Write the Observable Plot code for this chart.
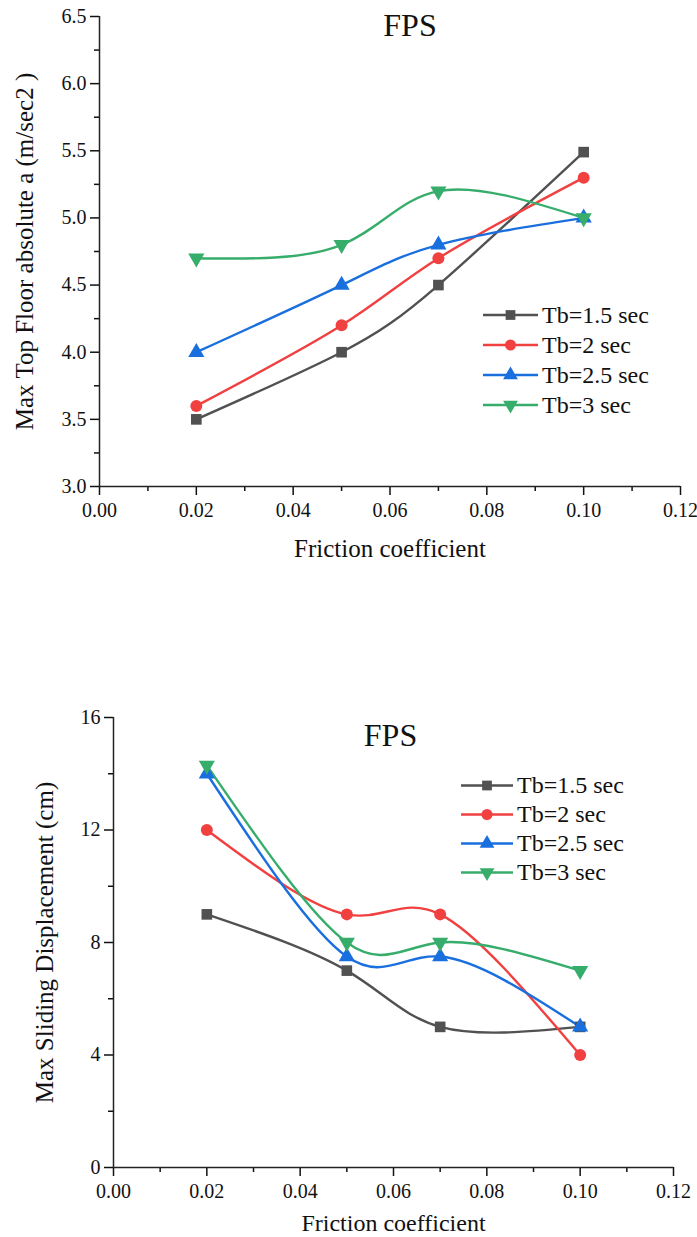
<!DOCTYPE html>
<html><head><meta charset="utf-8">
<script src="https://cdn.jsdelivr.net/npm/d3@7"></script>
<script src="https://cdn.jsdelivr.net/npm/@observablehq/plot@0.6"></script>
<style>
body{margin:0;background:#fff;}
.chart{position:relative;width:697px;}
.chart svg{display:block;}
.chart svg text{font-family:"Liberation Serif","Times New Roman",serif;}
.legend{position:absolute;font-family:"Liberation Serif","Times New Roman",serif;color:#111;}
.legend .row{display:flex;align-items:center;white-space:nowrap;}
.legend svg{display:block;}
</style></head><body>
<div id="c1" class="chart"></div>
<div id="c2" class="chart"></div>
<script>
// ---- data ----
const friction = [0.02, 0.05, 0.07, 0.10];
const seriesNames = ["Tb=1.5 sec", "Tb=2 sec", "Tb=2.5 sec", "Tb=3 sec"];
const accelTb15 = [3.5, 4.0, 4.5, 5.49];
const accelTb2  = [3.6, 4.2, 4.7, 5.3];
const accelTb25 = [4.0, 4.5, 4.8, 5.0];
const accelTb3  = [4.7, 4.8, 5.2, 5.0];
const dispTb15 = [9, 7, 5, 5];
const dispTb2  = [12, 9, 9, 4];
const dispTb25 = [14, 7.5, 7.5, 5];
const dispTb3  = [14.3, 8, 8, 7];
const xTicks = [0, 0.02, 0.04, 0.06, 0.08, 0.10, 0.12];
const xMinorTicks = [0.01, 0.03, 0.05, 0.07, 0.09, 0.11];
const accelTicks = [3.0, 3.5, 4.0, 4.5, 5.0, 5.5, 6.0, 6.5];
const accelMinorTicks = [3.25, 3.75, 4.25, 4.75, 5.25, 5.75, 6.25];
const dispTicks = [0, 4, 8, 12, 16];
const dispMinorTicks = [2, 6, 10, 14];
const colors = ["#515151", "#F14040", "#1A6FDF", "#37AD6B"];
const symbols = ["square", "circle", "triangle", "triangle"];
const rotations = [0, 0, 0, 180];

const FONT = '"Liberation Serif", "Times New Roman", serif';

function toRows(seriesList) {
  const rows = [];
  seriesList.forEach((vals, i) => vals.forEach((v, j) => rows.push({x: friction[j], y: v, s: seriesNames[i], rot: rotations[i]})));
  return rows;
}

function makeChart(o) {
  const rows = toRows(o.series);
  return Plot.plot({
    width: 697, height: o.height,
    marginTop: o.marginTop, marginBottom: o.marginBottom, marginLeft: o.marginLeft, marginRight: o.marginRight,
    style: {fontFamily: FONT, fontSize: "20px", color: "#111", background: "#fff"},
    x: {domain: [0, 0.12]},
    y: {domain: o.yDomain},
    color: {domain: seriesNames, range: colors},
    symbol: {domain: seriesNames, range: symbols},
    marks: [
      Plot.axisX({ticks: xTicks, tickSize: 9, tickPadding: 7, strokeWidth: 1.5, tickFormat: d3.format(".2f"),
        fontSize: o.xTickFont, fontFamily: FONT, label: null}),
      Plot.axisX({ticks: xMinorTicks, tickSize: 5, strokeWidth: 1.5, tickFormat: () => "", label: null}),
      Plot.axisX({ticks: [], label: "Friction coefficient", labelAnchor: "center", labelArrow: "none",
        labelOffset: o.xLabelOffset, fontSize: o.xLabelFont, fontFamily: FONT}),
      Plot.axisY({ticks: o.yTicks, tickSize: 9, tickPadding: 4, strokeWidth: 1.5, tickFormat: o.yFormat,
        fontSize: o.yTickFont, fontFamily: FONT, label: null}),
      Plot.axisY({ticks: o.yMinor, tickSize: 5, strokeWidth: 1.5, tickFormat: () => "", label: null}),
      Plot.axisY({ticks: [], label: o.yLabel, labelAnchor: "center", labelArrow: "none", labelOffset: o.yLabelOffset,
        fontSize: o.yLabelFont, fontFamily: FONT}),
      Plot.ruleX([0], {strokeWidth: 1.5, stroke: "#222"}),
      Plot.ruleY([o.yDomain[0]], {strokeWidth: 1.5, stroke: "#222"}),
      Plot.line(rows, {x: "x", y: "y", z: "s", stroke: "s", curve: "natural", strokeWidth: 2.4}),
      Plot.dot(rows, {x: "x", y: "y", fill: "s", symbol: "s", rotate: "rot", r: 6, stroke: "none"}),
      Plot.text(["FPS"], {frameAnchor: "top", dx: o.titleDx, dy: o.titleDy, lineAnchor: "middle", fontSize: 32, fill: "#111", fontFamily: FONT})
    ]
  });
}

function makeLegend(o) {
  const lg = document.createElement("div");
  lg.className = "legend";
  lg.style.left = o.left + "px";
  lg.style.top = o.top + "px";
  lg.style.fontSize = o.fontSize + "px";
  seriesNames.forEach((name, i) => {
    const row = document.createElement("div");
    row.className = "row";
    row.style.height = o.rowH + "px";
    const w = o.lineW;
    const svg = d3.create("svg").attr("width", w).attr("height", o.rowH);
    svg.append("line").attr("x1", 0).attr("x2", w).attr("y1", o.rowH / 2).attr("y2", o.rowH / 2)
      .attr("stroke", colors[i]).attr("stroke-width", 2.4);
    const sym = {square: d3.symbolSquare, circle: d3.symbolCircle, triangle: d3.symbolTriangle}[symbols[i]];
    svg.append("path").attr("d", d3.symbol(sym, Math.PI * 5.5 * 5.5)())
      .attr("transform", `translate(${w / 2},${o.rowH / 2}) rotate(${rotations[i]})`).attr("fill", colors[i]);
    row.appendChild(svg.node());
    const t = document.createElement("span");
    t.textContent = name;
    t.style.marginLeft = "4px";
    row.appendChild(t);
    lg.appendChild(row);
  });
  return lg;
}

const c1 = document.getElementById("c1");
c1.appendChild(makeChart({
  series: [accelTb15, accelTb2, accelTb25, accelTb3],
  height: 570, marginTop: 16, marginBottom: 84, marginLeft: 99, marginRight: 17,
  yDomain: [3.0, 6.5], yTicks: accelTicks, yMinor: accelMinorTicks, yFormat: d3.format(".1f"),
  yLabel: "Max Top Floor absolute a (m/sec2 )", yLabelOffset: 84, yLabelFont: 25,
  xLabelOffset: 70, xLabelFont: 25, xTickFont: 20, yTickFont: 20, titleDx: 20, titleDy: 9
}));
c1.appendChild(makeLegend({left: 483, top: 300, rowH: 30, lineW: 55, fontSize: 24}));

const c2 = document.getElementById("c2");
c2.appendChild(makeChart({
  series: [dispTb15, dispTb2, dispTb25, dispTb3],
  height: 667, marginTop: 147, marginBottom: 70, marginLeft: 113, marginRight: 24,
  yDomain: [0, 16], yTicks: dispTicks, yMinor: dispMinorTicks, yFormat: d3.format("d"),
  yLabel: "Max Sliding Displacement (cm)", yLabelOffset: 78, yLabelFont: 25,
  xLabelOffset: 63, xLabelFont: 24, xTickFont: 20, yTickFont: 20, titleDx: -3, titleDy: 18
}));
// legend top is relative to the second chart's container (which starts 570px down the page)
c2.appendChild(makeLegend({left: 461, top: 201, rowH: 29, lineW: 52, fontSize: 24}));
</script>
</body></html>
